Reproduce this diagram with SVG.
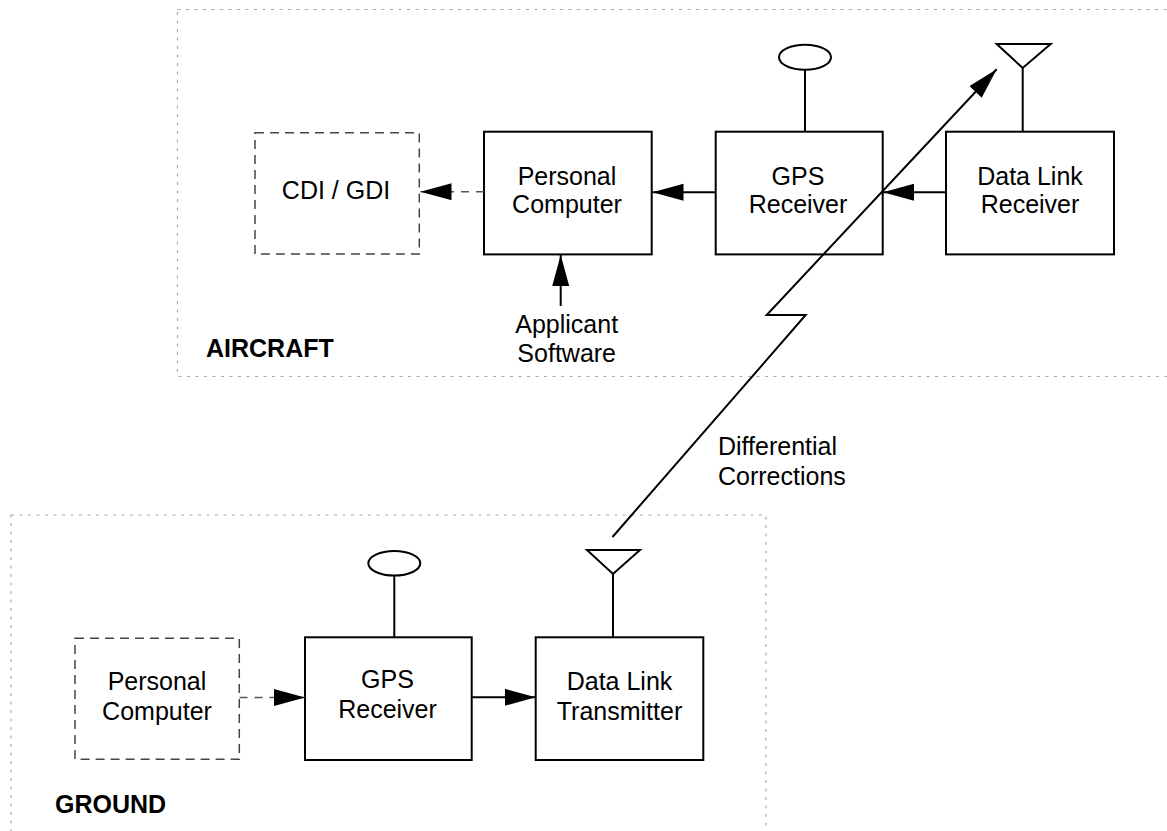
<svg xmlns="http://www.w3.org/2000/svg" width="1167" height="831" viewBox="0 0 1167 831">
  <style>
    text { font-family: "Liberation Sans", Arial, Helvetica, sans-serif; font-size: 25px; fill: #000; }
    .c { text-anchor: middle; }
    .b { font-weight: bold; }
    .region { fill: none; stroke: #aaaaaa; stroke-width: 1.2; stroke-dasharray: 3 5.5; }
    .box { fill: #fff; stroke: #000; stroke-width: 2; }
    .dbox { fill: #fff; stroke: #444; stroke-width: 1.5; stroke-dasharray: 9 6; }
    .wire { fill: none; stroke: #000; stroke-width: 2; }
    .dwire { fill: none; stroke: #555; stroke-width: 1.5; stroke-dasharray: 8 7; }
    .ant { fill: #fff; stroke: #000; stroke-width: 2; }
  </style>
  <defs>
    <marker id="arr" markerUnits="userSpaceOnUse" markerWidth="32" markerHeight="18" refX="31" refY="8.5" orient="auto">
      <path d="M0,0 L31,8.5 L0,17 z" fill="#000"/>
    </marker>
  </defs>
  <rect width="1167" height="831" fill="#fff"/>

  <g id="aircraft-region">
    <rect class="region" x="177.5" y="9.5" width="1000" height="367"/>
    <text class="b" x="206" y="357">AIRCRAFT</text>
  </g>
  <g id="ground-region">
    <rect class="region" x="11" y="515" width="755" height="330"/>
    <text class="b" x="55" y="813">GROUND</text>
  </g>

  <g id="cdi-gdi">
    <rect class="dbox" x="255" y="132.7" width="164.3" height="121.3"/>
    <text class="c" x="336" y="199">CDI / GDI</text>
  </g>
  <g id="aircraft-pc">
    <rect class="box" x="484" y="131.7" width="167.7" height="122.7"/>
    <text class="c" x="567" y="185">Personal</text>
    <text class="c" x="567" y="213.3">Computer</text>
  </g>
  <g id="applicant-software">
    <text class="c" x="566.7" y="333.3">Applicant</text>
    <text class="c" x="566.7" y="361.7">Software</text>
  </g>
  <g id="aircraft-gps">
    <line class="wire" x1="805" y1="70" x2="805" y2="131.7"/>
    <ellipse class="ant" cx="805" cy="57.3" rx="26" ry="12.5"/>
    <rect class="box" x="715.7" y="131.7" width="167" height="122.7"/>
    <text class="c" x="798" y="185">GPS</text>
    <text class="c" x="798" y="213.3">Receiver</text>
  </g>
  <g id="data-link-receiver">
    <line class="wire" x1="1022.7" y1="68" x2="1022.7" y2="131.7"/>
    <polygon class="ant" points="996.7,44 1050.7,44 1022.7,68"/>
    <rect class="box" x="946" y="131.7" width="168" height="122.7"/>
    <text class="c" x="1030" y="185">Data Link</text>
    <text class="c" x="1030" y="213.3">Receiver</text>
  </g>

  <g id="differential-corrections">
    <text x="718" y="455">Differential</text>
    <text x="718" y="485">Corrections</text>
  </g>

  <g id="ground-pc">
    <rect class="dbox" x="75" y="638.3" width="164.3" height="121"/>
    <text class="c" x="157" y="690">Personal</text>
    <text class="c" x="157" y="720">Computer</text>
  </g>
  <g id="ground-gps">
    <line class="wire" x1="394.3" y1="576" x2="394.3" y2="637.3"/>
    <ellipse class="ant" cx="394.3" cy="563.3" rx="26" ry="12.3"/>
    <rect class="box" x="305" y="637.3" width="166.7" height="122.7"/>
    <text class="c" x="387.5" y="688.3">GPS</text>
    <text class="c" x="387.5" y="718.3">Receiver</text>
  </g>
  <g id="data-link-transmitter">
    <line class="wire" x1="613" y1="574" x2="613" y2="637.3"/>
    <polygon class="ant" points="587,550 640,550 613,574"/>
    <rect class="box" x="535.7" y="637.3" width="167.6" height="122.7"/>
    <text class="c" x="619.5" y="690">Data Link</text>
    <text class="c" x="619.5" y="720">Transmitter</text>
  </g>

  <g id="connectors">
    <line class="dwire" x1="484" y1="191.7" x2="420.5" y2="191.7" marker-end="url(#arr)"/>
    <line class="wire" x1="715.7" y1="192.3" x2="652.5" y2="192.3" marker-end="url(#arr)"/>
    <line class="wire" x1="946" y1="192.3" x2="883" y2="192.3" marker-end="url(#arr)"/>
    <line class="wire" x1="560.7" y1="306" x2="560.7" y2="255" marker-end="url(#arr)"/>
    <line class="dwire" x1="239.5" y1="697.5" x2="305" y2="697.5" marker-end="url(#arr)"/>
    <line class="wire" x1="471.7" y1="697.3" x2="535.7" y2="697.3" marker-end="url(#arr)"/>
    <polyline class="wire" points="612.5,537 805.7,315 766.7,315 996.7,69.3" marker-end="url(#arr)"/>
  </g>
</svg>
